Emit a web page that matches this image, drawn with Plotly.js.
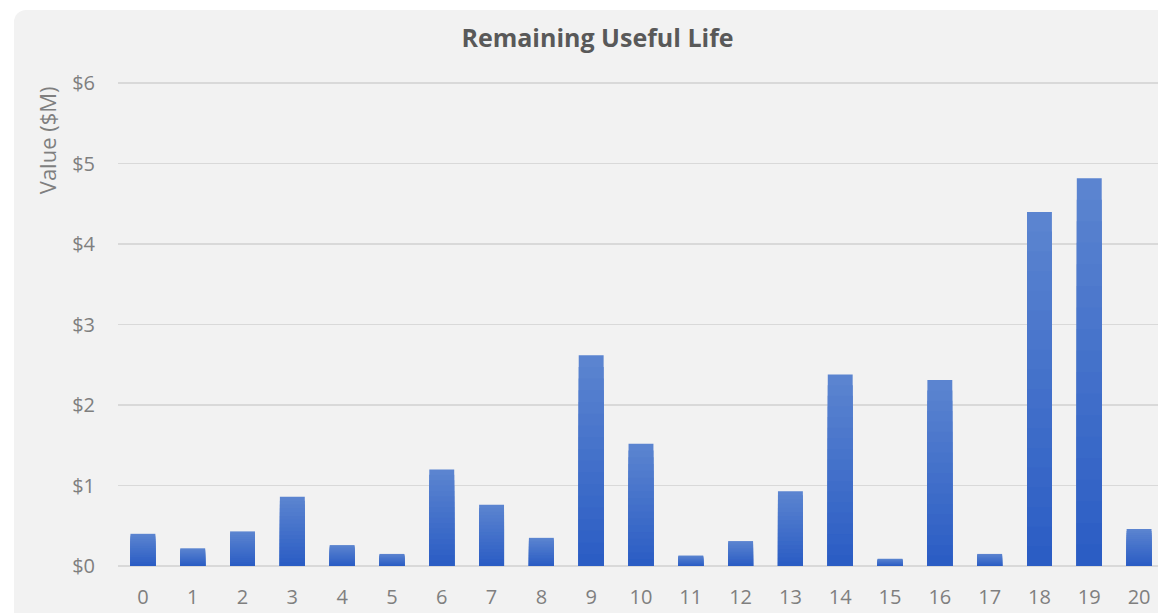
<!DOCTYPE html>
<html>
<head>
<meta charset="utf-8">
<script src="https://cdn.plot.ly/plotly-3.0.1.min.js"></script>
<style>
  html, body { margin: 0; padding: 0; background: #ffffff; overflow: hidden; }
  #panel { position: absolute; left: 14px; top: 10px; width: 1160px; height: 620px;
           background: #f2f2f2; border-radius: 12px; }
  #chart { position: absolute; left: 0; top: 0; width: 1158px; height: 613px; }
</style>
</head>
<body>
<div id="panel"></div>
<div id="chart"></div>
<script>
const categories = ["0","1","2","3","4","5","6","7","8","9","10","11","12","13","14","15","16","17","18","19","20"];
const values = [0.40, 0.22, 0.43, 0.86, 0.26, 0.15, 1.20, 0.76, 0.35, 2.62, 1.52, 0.13, 0.31, 0.93, 2.38, 0.09, 2.31, 0.15, 4.40, 4.82, 0.46];
const yTickValues = [0, 1, 2, 3, 4, 5, 6];
const yTickLabels = ["$0", "$1", "$2", "$3", "$4", "$5", "$6"];

const topColor = [92, 133, 208];
const bottomColor = [42, 92, 196];
const layers = 18;
const traces = [];
for (let k = 0; k < layers; k++) {
  const frac = 1 - k / layers;
  const rel = 1 - (k + 0.5) / layers;
  const c = topColor.map((t, i) => Math.round(bottomColor[i] + (t - bottomColor[i]) * rel));
  traces.push({
    type: 'bar',
    x: categories,
    y: values.map(v => v * frac),
    marker: { color: `rgb(${c[0]},${c[1]},${c[2]})`, line: { width: 0 } },
    hoverinfo: k === 0 ? 'x+y' : 'skip',
    showlegend: false
  });
}

const layout = {
  width: 1158, height: 613,
  paper_bgcolor: 'rgba(0,0,0,0)',
  plot_bgcolor: 'rgba(0,0,0,0)',
  margin: { l: 118, r: 0, t: 82, b: 47 },
  barmode: 'overlay',
  bargap: 0.5,
  title: {
    text: '<b>Remaining Useful Life</b>',
    font: { family: 'Open Sans, sans-serif', size: 25, color: '#595959' },
    x: 0.516, xanchor: 'center', y: 0.938, yanchor: 'middle'
  },
  xaxis: {
    type: 'category',
    range: [-0.5, 20.38],
    showgrid: false, zeroline: false, showline: false,
    ticks: '', ticklabelstandoff: 17,
    tickfont: { family: 'Open Sans, sans-serif', size: 20, color: '#7f7f7f' }
  },
  yaxis: {
    range: [0, 6.015],
    tickmode: 'array',
    tickvals: yTickValues,
    ticktext: yTickLabels,
    showgrid: true, gridcolor: '#d9d9d9', gridwidth: 1.5,
    zeroline: true, zerolinecolor: '#d9d9d9', zerolinewidth: 1.5,
    showline: false, ticks: '', ticklabelstandoff: 22,
    tickfont: { family: 'Open Sans, sans-serif', size: 20, color: '#7f7f7f' }
  },
  annotations: [{
    text: 'Value ($M)',
    xref: 'paper', yref: 'paper',
    x: -0.068, y: 0.996, xanchor: 'center', yanchor: 'top',
    textangle: -90, showarrow: false,
    font: { family: 'Open Sans, sans-serif', size: 22, color: '#7f7f7f' }
  }]
};

Plotly.newPlot('chart', traces, layout, { displayModeBar: false, staticPlot: true });
</script>
</body>
</html>
